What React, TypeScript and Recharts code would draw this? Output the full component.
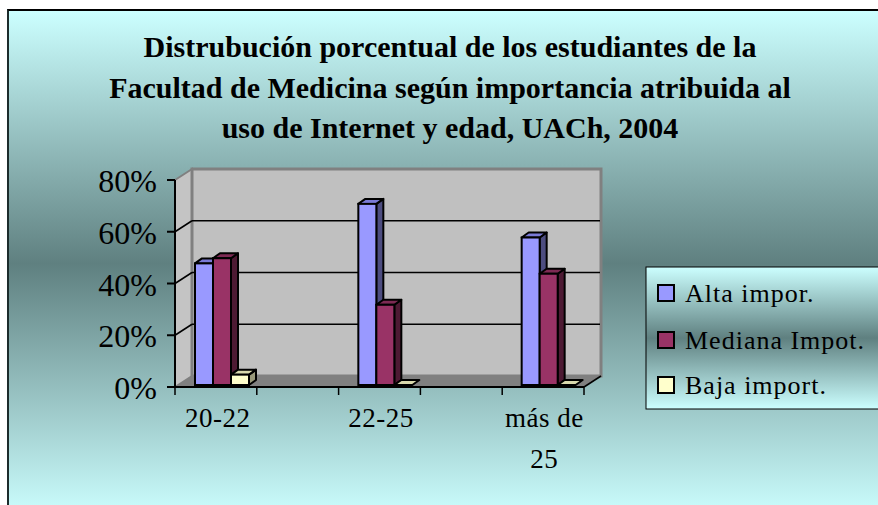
import React from 'react';
import { BarChart, Bar, XAxis, YAxis, CartesianGrid } from 'recharts';

// ---- data ----
const categories = ['20-22', '22-25', 'más de 25'];
const altaImpor = [0.47, 0.70, 0.57];
const medianaImpot = [0.49, 0.31, 0.43];
const bajaImport = [0.04, 0, 0];
const yTicks = [0, 0.2, 0.4, 0.6, 0.8];
const seriesNames = ['Alta impor.', 'Mediana Impot.', 'Baja import.'];
const titleLines = [
  'Distrubución porcentual de los estudiantes de la',
  'Facultad de Medicina según importancia atribuida al',
  'uso de Internet y edad, UACh, 2004',
];

const data = categories.map((c, i) => ({
  cat: c,
  alta: altaImpor[i],
  mediana: medianaImpot[i],
  baja: bajaImport[i],
}));

// ---- styling / layout ----
const FONT = '"Liberation Serif", "Times New Roman", serif';
const W = 878;
const H = 505;
const PLOT_LEFT = 140;
const PLOT_RIGHT = 630;
const PLOT_TOP = 178;
const PLOT_BOTTOM = 385;
const X_AXIS_H = 30;
const Y_MAX = 0.8;
const yPix = (v: number) => PLOT_BOTTOM - (v / Y_MAX) * (PLOT_BOTTOM - PLOT_TOP);

// 3D geometry
const FRONT_X = 175;
const BACK_X = 192;
const BACK_RIGHT = 601;
const FRONT_RIGHT = 584;
const FRONT_DY = 2;
const BACK_DY = -9;

const colors = [
  { front: '#9999ff', top: '#7a7ad6', side: '#4d4d80' },
  { front: '#993366', top: '#7d2a53', side: '#4d1a33' },
  { front: '#ffffcc', top: '#d9d9ad', side: '#99997a' },
];

const makeShape = (ci: number) => (props: any) => {
  const { x, y, width, height } = props;
  if (x == null || y == null) return null;
  const c = colors[ci];
  const dx = 7;
  const dy = 5;
  const h = Math.max(0, height || 0);
  const w = width;
  return (
    <g>
      {h > 0 && (
        <polygon
          points={`${x + w},${y} ${x + w + dx},${y - dy} ${x + w + dx},${y + h - dy} ${x + w},${y + h}`}
          fill={c.side}
          stroke="#000"
          strokeWidth={2}
          strokeLinejoin="round"
        />
      )}
      <polygon
        points={`${x},${y} ${x + dx},${y - dy} ${x + w + dx},${y - dy} ${x + w},${y}`}
        fill={c.top}
        stroke="#000"
        strokeWidth={2}
        strokeLinejoin="round"
      />
      {h > 0 && (
        <rect x={x} y={y} width={w} height={h} fill={c.front} stroke="#000" strokeWidth={2} />
      )}
    </g>
  );
};

const gridLine = (p: any) => {
  const y = p.y1;
  if (Math.abs(y - PLOT_TOP) < 1 || Math.abs(y - PLOT_BOTTOM) < 1) return <g key={p.key} />;
  return (
    <g key={p.key}>
      <line x1={FRONT_X} y1={y + FRONT_DY} x2={BACK_X} y2={y + BACK_DY} stroke="#000" strokeWidth={1.5} />
      <line x1={BACK_X} y1={y + BACK_DY} x2={BACK_RIGHT - 1} y2={y + BACK_DY} stroke="#000" strokeWidth={1.5} />
    </g>
  );
};

const YTick = (props: any) => {
  const { y, payload } = props;
  return (
    <g>
      <line x1={167} x2={FRONT_X} y1={y + FRONT_DY} y2={y + FRONT_DY} stroke="#000" strokeWidth={2} />
      <text x={157} y={y + FRONT_DY + 12} textAnchor="end" fontSize={32} fontFamily={FONT} fill="#000">
        {`${Math.round(payload.value * 100)}%`}
      </text>
    </g>
  );
};

const wrapLabel = (s: string) => {
  if (s.length > 6 && s.includes(' ')) {
    const i = s.lastIndexOf(' ');
    return [s.slice(0, i), s.slice(i + 1)];
  }
  return [s];
};

const XTick = (props: any) => {
  const { x, payload } = props;
  const lines = wrapLabel(payload.value);
  return (
    <g>
      {lines.map((l, i) => (
        <text
          key={i}
          x={x - 4}
          y={427 + i * 41}
          textAnchor="middle"
          fontSize={27}
          letterSpacing={0.5}
          fontFamily={FONT}
          fill="#000"
        >
          {l}
        </text>
      ))}
    </g>
  );
};

const xTickMarks = [0, 1, 2, 3, 4, 5].map((i) => FRONT_X + ((FRONT_RIGHT - FRONT_X) * i) / 5);

export default function App() {
  const yTop = yPix(Y_MAX);
  const y0 = yPix(0);
  return (
    <div style={{ position: 'absolute', left: 0, top: 0, width: W, height: H, overflow: 'hidden', background: '#fff' }}>
      <div
        style={{
          position: 'absolute',
          left: 7,
          top: 9,
          width: 900,
          height: 506,
          borderTop: '2px solid #000',
          borderLeft: '2px solid #1c2c2c',
          background: 'linear-gradient(to bottom, #ccffff 0%, #5f8080 50%, #ccffff 100%)',
        }}
      />
      <svg width={W} height={H} style={{ position: 'absolute', left: 0, top: 0 }}>
        <defs>
          <linearGradient id="lg" x1="0" y1="0" x2="0" y2="1">
            <stop offset="0%" stopColor="#ccffff" />
            <stop offset="50%" stopColor="#5f8080" />
            <stop offset="100%" stopColor="#ccffff" />
          </linearGradient>
        </defs>
        {titleLines.map((t, i) => (
          <text
            key={i}
            x={450}
            y={57 + i * 40.5}
            textAnchor="middle"
            fontSize={30}
            fontWeight="bold"
            fontFamily={FONT}
            fill="#000"
          >
            {t}
          </text>
        ))}
        {/* left wall */}
        <polygon
          points={`${FRONT_X},${yTop + FRONT_DY} ${BACK_X},${yTop + BACK_DY} ${BACK_X},${y0 + BACK_DY} ${FRONT_X},${y0 + FRONT_DY}`}
          fill="#c4c4c4"
          stroke="#808080"
          strokeWidth={2}
        />
        {/* back wall */}
        <rect
          x={BACK_X}
          y={yTop + BACK_DY}
          width={BACK_RIGHT - BACK_X}
          height={y0 - yTop}
          fill="#c0c0c0"
          stroke="#808080"
          strokeWidth={3}
        />
        {/* floor */}
        <polygon
          points={`${FRONT_X},${y0 + FRONT_DY} ${BACK_X},${y0 + BACK_DY} ${BACK_RIGHT},${y0 + BACK_DY} ${FRONT_RIGHT},${y0 + FRONT_DY}`}
          fill="#808080"
        />
        <line x1={FRONT_RIGHT} y1={y0 + FRONT_DY} x2={BACK_RIGHT} y2={y0 + BACK_DY} stroke="#000" strokeWidth={1.5} />
        <line x1={FRONT_X} y1={yTop + FRONT_DY} x2={FRONT_X} y2={y0 + FRONT_DY} stroke="#000" strokeWidth={2} />
        <line x1={FRONT_X} y1={y0 + FRONT_DY} x2={FRONT_RIGHT} y2={y0 + FRONT_DY} stroke="#000" strokeWidth={2} />
        {xTickMarks.map((tx, i) => (
          <line key={i} x1={tx} x2={tx} y1={y0 + FRONT_DY} y2={y0 + FRONT_DY + 8} stroke="#000" strokeWidth={1.5} />
        ))}
        {/* legend */}
        <rect x={646} y={267} width={260} height={142} fill="url(#lg)" stroke="#000" strokeWidth={1} />
        {seriesNames.map((n, i) => {
          const cy = [293, 340, 385][i];
          return (
            <g key={n}>
              <rect x={658} y={cy - 8} width={16} height={16} fill={colors[i].front} stroke="#000" strokeWidth={2} />
              <text x={685} y={cy + 9} fontSize={26} letterSpacing={1} fontFamily={FONT} fill="#000">
                {n}
              </text>
            </g>
          );
        })}
      </svg>
      <div style={{ position: 'absolute', left: 0, top: 0 }}>
        <BarChart
          width={W}
          height={H}
          data={data}
          margin={{ top: PLOT_TOP, right: W - PLOT_RIGHT, bottom: H - PLOT_BOTTOM - X_AXIS_H, left: 0 }}
          barGap={0}
          barSize={18}
        >
          <CartesianGrid vertical={false} horizontal={gridLine} stroke="#000" fill="none" />
          <XAxis
            dataKey="cat"
            height={X_AXIS_H}
            axisLine={false}
            tickLine={false}
            interval={0}
            tick={<XTick />}
          />
          <YAxis
            width={PLOT_LEFT}
            domain={[0, Y_MAX]}
            ticks={yTicks}
            axisLine={false}
            tickLine={false}
            interval={0}
            tick={<YTick />}
          />
          <Bar dataKey="alta" name={seriesNames[0]} fill={colors[0].front} shape={makeShape(0)} isAnimationActive={false} />
          <Bar dataKey="mediana" name={seriesNames[1]} fill={colors[1].front} shape={makeShape(1)} isAnimationActive={false} />
          <Bar dataKey="baja" name={seriesNames[2]} fill={colors[2].front} shape={makeShape(2)} isAnimationActive={false} />
        </BarChart>
      </div>
    </div>
  );
}
